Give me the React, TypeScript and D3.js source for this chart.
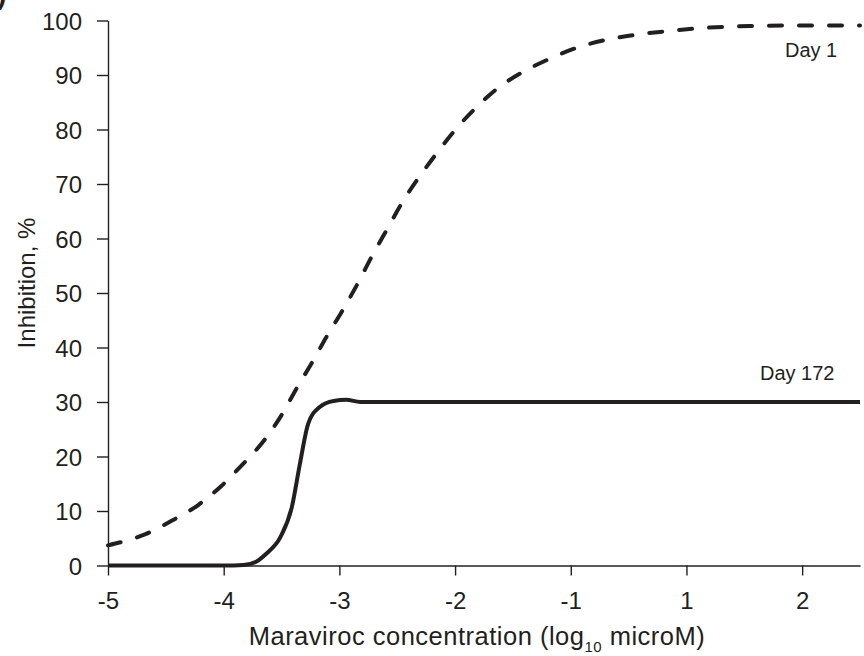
import React, { useEffect, useRef } from 'react';
import * as d3 from 'd3';

// x values are axis positions; the printed axis skips "0", so labels are kept separately
const xTickPositions = [-5, -4, -3, -2, -1, 0, 1];
const xTickLabels = ['-5', '-4', '-3', '-2', '-1', '1', '2'];
const yTicks = [0, 10, 20, 30, 40, 50, 60, 70, 80, 90, 100];

const day1X = [-5, -4.67, -4.45, -4.22, -4.02, -3.83, -3.66, -3.5, -3.37, -3.24, -3.11, -2.97, -2.84, -2.72, -2.59, -2.46, -2.32, -2.16, -2.0, -1.81, -1.63, -1.41, -1.17, -0.92, -0.66, -0.4, -0.14, 0.2, 0.55, 1.0, 1.5];
const day1Y = [3.7, 5.8, 8.2, 11.1, 14.6, 18.7, 22.7, 27.6, 32.5, 37.1, 42, 46.9, 51.8, 56.7, 61.6, 66.5, 71, 75.6, 79.9, 84.2, 87.6, 90.6, 93.1, 95.2, 96.6, 97.5, 98.1, 98.7, 99.0, 99.1, 99.1];

const day172X = [-5, -4, -3.83, -3.72, -3.63, -3.51, -3.41, -3.34, -3.27, -3.17, -3.05, -2.94, -2.82, -2.5, 1.5];
const day172Y = [0, 0, 0.1, 0.7, 2.2, 5.2, 10.8, 18.8, 26, 29.1, 30.2, 30.4, 30.0, 30.0, 30.0];

const width = 864;
const height = 656;
const font = '"Liberation Sans", Arial, Helvetica, sans-serif';
const ink = '#231f20';

const x = d3.scaleLinear().domain([-5, 1.5]).range([108, 860]);
const y = d3.scaleLinear().domain([0, 100]).range([565.5, 20.5]);

const line = d3
  .line<[number, number]>()
  .x(d => x(d[0]))
  .y(d => y(d[1]))
  .curve(d3.curveMonotoneX);

export default function App() {
  const xAxisRef = useRef<SVGGElement>(null);
  const yAxisRef = useRef<SVGGElement>(null);

  useEffect(() => {
    const xAxis = d3
      .axisBottom(x)
      .tickValues(xTickPositions)
      .tickFormat((d, i) => xTickLabels[i])
      .tickSize(10)
      .tickSizeOuter(0)
      .tickPadding(16);
    const yAxis = d3
      .axisLeft(y)
      .tickValues(yTicks)
      .tickSize(11)
      .tickSizeOuter(0)
      .tickPadding(15);

    const gx = d3.select(xAxisRef.current).call(xAxis);
    const gy = d3.select(yAxisRef.current).call(yAxis);
    [gx, gy].forEach(g => {
      g.select('.domain').attr('stroke', ink).attr('stroke-width', 1.4);
      g.selectAll('.tick line').attr('stroke', ink).attr('stroke-width', 1.4);
      g.selectAll('.tick text')
        .attr('fill', ink)
        .style('font-family', font)
        .style('font-size', '24px');
    });
    gy.selectAll('.tick text').attr('dy', '0.36em');
  }, []);

  const day1 = day1X.map((v, i) => [v, day1Y[i]] as [number, number]);
  const day172 = day172X.map((v, i) => [v, day172Y[i]] as [number, number]);

  return (
    <svg
      width={width}
      height={height}
      style={{ position: 'absolute', left: 0, top: 0, background: '#fff' }}
    >
      {/* panel letter, cropped off in the source */}
      <text x={-3} y={4} fontFamily={font} fontSize={28} fontWeight="bold" fill={ink}>)</text>
      <path
        d={line(day1) || ''}
        fill="none"
        stroke={ink}
        strokeWidth={4}
        strokeDasharray="13 17"
        strokeLinecap="round"
      />
      <path d={line(day172) || ''} fill="none" stroke={ink} strokeWidth={4} />
      <g ref={xAxisRef} transform={`translate(0, ${y(0)})`} />
      <g ref={yAxisRef} transform={`translate(${x(-5)}, 0)`} />
      <text x={785} y={57} fontFamily={font} fontSize={20} fill={ink}>Day 1</text>
      <text x={760} y={380} fontFamily={font} fontSize={20} fill={ink}>Day 172</text>
      <text
        x={477}
        y={645}
        textAnchor="middle"
        fontFamily={font}
        fontSize={25.5}
        letterSpacing={0.5}
        fill={ink}
      >
        Maraviroc concentration (log
        <tspan fontSize={15} dy={7}>10</tspan>
        <tspan dy={-7}> microM)</tspan>
      </text>
      <text
        transform="translate(35, 283) rotate(-90)"
        textAnchor="middle"
        fontFamily={font}
        fontSize={24}
        fill={ink}
      >
        Inhibition, %
      </text>
    </svg>
  );
}
